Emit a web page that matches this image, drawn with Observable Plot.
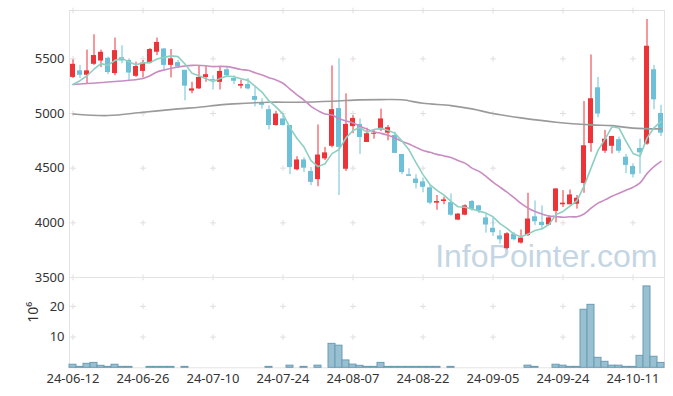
<!DOCTYPE html>
<html><head><meta charset="utf-8">
<script src="https://cdn.jsdelivr.net/npm/d3@7"></script>
<script src="https://cdn.jsdelivr.net/npm/@observablehq/plot@0.6"></script>
<style>
body{margin:0;background:#fff;}
#wrap{position:relative;width:673px;height:396px;}
#wrap svg{position:absolute;left:0;}
</style></head><body><div id="wrap"></div>
<script>
const dates = ["24-06-12","24-06-13","24-06-14","24-06-17","24-06-18","24-06-19","24-06-20","24-06-21","24-06-24","24-06-25","24-06-26","24-06-27","24-06-28",
"24-07-01","24-07-02","24-07-03","24-07-04","24-07-05","24-07-08","24-07-09","24-07-10","24-07-11","24-07-12","24-07-15","24-07-16","24-07-17","24-07-18","24-07-19","24-07-22","24-07-23","24-07-24","24-07-25","24-07-26","24-07-29","24-07-30","24-07-31",
"24-08-01","24-08-02","24-08-05","24-08-06","24-08-07","24-08-08","24-08-09","24-08-12","24-08-13","24-08-14","24-08-16","24-08-19","24-08-20","24-08-21","24-08-22","24-08-23","24-08-26","24-08-27","24-08-28","24-08-29","24-08-30",
"24-09-02","24-09-03","24-09-04","24-09-05","24-09-06","24-09-09","24-09-10","24-09-11","24-09-12","24-09-13","24-09-19","24-09-20","24-09-23","24-09-24","24-09-25","24-09-26","24-09-27","24-09-30",
"24-10-02","24-10-04","24-10-07","24-10-08","24-10-10","24-10-11","24-10-14","24-10-15","24-10-16","24-10-17"];

const open = [5330,5390,5350,5450,5480,5505,5365,5510,5485,5340,5385,5460,5560,5590,5440,5465,5395,5205,5225,5330,
5310,5285,5400,5320,5250,5265,5155,5100,5035,4890,4950,4890,4485,4575,4470,4395,4585,4700,5045,4490,
4880,4900,4735,4810,4850,4820,4800,4625,4440,4400,4375,4320,4180,4195,4185,4025,4070,4195,4155,4045,
3950,3880,3765,3895,3815,3885,4055,4005,3980,4105,4165,4165,4170,4360,4725,5235,4655,4700,4760,4600,
4515,4680,4720,5400,5000];
const high = [5490,5440,5580,5720,5580,5515,5690,5620,5500,5470,5485,5595,5690,5595,5585,5485,5395,5285,5430,5430,
5345,5430,5430,5345,5305,5320,5240,5135,5070,5020,4980,4890,4605,4595,4505,4895,4690,5435,5500,5180,
4980,4950,4865,4845,5040,4890,4830,4625,4495,4440,4410,4340,4250,4235,4265,4085,4165,4205,4160,4080,
4040,3930,3910,3910,3935,4270,4200,4155,4065,4310,4295,4300,4250,5110,5535,5330,4845,4790,4785,4625,
4540,4765,5860,5440,5075];
const low = [5320,5320,5270,5440,5420,5355,5345,5455,5300,5330,5325,5455,5530,5385,5325,5410,5115,5180,5220,5285,
5215,5215,5330,5265,5225,5215,5060,5040,4850,4885,4885,4440,4475,4460,4340,4330,4570,4685,4250,4470,
4815,4625,4735,4765,4835,4750,4635,4440,4425,4310,4275,4165,4115,4165,4060,4020,4065,4105,4085,3905,
3875,3805,3755,3835,3805,3875,3975,3935,3975,4000,4140,4165,4125,4270,4645,4960,4635,4630,4635,4450,
4410,4445,4710,5035,4790];
const close = [5450,5350,5390,5530,5560,5375,5575,5480,5370,5430,5460,5585,5650,5440,5500,5425,5250,5225,5330,5355,
5300,5385,5345,5295,5265,5225,5120,5075,4890,4995,4890,4505,4575,4500,4370,4620,4640,5035,4690,4900,
4955,4780,4815,4820,4950,4870,4635,4460,4425,4360,4325,4180,4195,4210,4070,4080,4155,4120,4110,3980,
3910,3845,3900,3845,3860,4035,4010,3975,4045,4310,4180,4255,4225,4705,5135,4995,4765,4790,4655,4525,
4440,4640,5615,5125,4820];
// volume in millions of shares
const volume = [1.0,0.3,1.3,1.6,0.65,0.3,1.0,0.3,0.3,0.05,0.05,0.3,0.3,0.3,0.3,0.05,0.3,0.05,0.05,0.05,
0.05,0.05,0.05,0.05,0.05,0.05,0.05,0.05,0.3,0.05,0.05,0.7,0.05,0.3,0.05,0.7,0.05,7.8,7.2,2.4,
1.05,0.65,0.3,0.3,1.6,0.3,0.3,0.3,0.3,0.3,0.3,0.3,0.3,0.05,0.3,0.05,0.05,0.05,0.05,0.05,
0.05,0.05,0.05,0.05,0.05,0.7,0.3,0.05,0.05,1.0,0.7,0.3,0.3,18.9,20.5,3.25,1.95,0.7,0.7,0.3,
0.3,3.9,26.5,3.6,1.6];
// moving-average lines
const ma5 = [5265,5300,5345,5405,5456,5441,5486,5504,5472,5446,5463,5465,5499,5513,5527,5520,5453,5368,5346,5317,
5292,5319,5343,5336,5318,5303,5250,5196,5115,5061,4994,4871,4771,4693,4568,4514,4541,4633,4671,4777,
4844,4872,4828,4854,4864,4847,4818,4747,4668,4550,4441,4350,4297,4254,4196,4147,4142,4127,4107,4089,
4055,3993,3949,3896,3872,3897,3930,3945,3985,4075,4104,4153,4203,4335,4500,4663,4765,4878,4868,4746,
4635,4610,4775,4869,4928];
const ma20 = [5265,null,null,null,null,null,5292,null,null,null,5320,5345,5380,5398,null,5425,null,5440,null,
5437,5429,5431,5429,5417,5402,5395,5372,5352,5328,5306,5277,5223,5170,5123,5066,5026,4995,4986,4954,4931,
4914,4884,4857,4833,4818,4800,4776,4745,4721,4690,4662,4645,4626,4612,4597,4570,4546,4500,4471,4425,
4373,4326,4280,4231,4177,4135,4104,4080,4061,4058,4051,4055,4056,4081,4134,4180,4210,4244,4271,4298,
4325,4365,4450,4514,4562];
const maLongIdx = [0,5,10,15,18,21,23,28,32,37,41,44,47,50,54,57,60,64,69,74,77,80,84];
const maLong = [4996,4981,5011,5042,5057,5079,5088,5103,5103,5112,5125,5127,5125,5093,5072,5042,5000,4960,4920,4896,4889,4866,4859];

const tickDates = ["24-06-12","24-06-26","24-07-10","24-07-24","24-08-07","24-08-22","24-09-05","24-09-24","24-10-11"];
const priceTicks = [3500,4000,4500,5000,5500];
const volumeTicks = [10,20];
const priceDomain = [3500,5942];
const volumeDomain = [0,29.4];

const data = dates.map((d,i)=>({date:d,open:open[i],high:high[i],low:low[i],close:close[i],volume:volume[i],ma5:ma5[i],ma20:ma20[i]}));
const longData = maLongIdx.map((k,j)=>({date:dates[k],v:maLong[j]}));
const UP = "#ee3338", DOWN = "#6cc0d7";
const colorOf = d => d.close >= d.open ? UP : DOWN;
const font = '"Noto Sans", "DejaVu Sans", sans-serif';

const priceCross = tickDates.flatMap(d => [...priceTicks, priceDomain[1]].map(v => ({date:d, v})));
const volCross = tickDates.flatMap(d => volumeTicks.map(v => ({date:d, v})));

const price = Plot.plot({
  width:673, height:285, marginLeft:69, marginRight:9, marginTop:10, marginBottom:8,
  style:{fontFamily:font, fontSize:"13px", color:"#333", background:"transparent", overflow:"visible"},
  x:{type:"band", domain:dates, paddingInner:0.3, paddingOuter:0.15, axis:null},
  y:{domain:priceDomain, ticks:priceTicks, tickSize:0, tickPadding:5, label:null, tickFormat:d=>String(d)},
  marks:[
    Plot.frame({stroke:"#e3e3e3"}),
    Plot.text(["InfoPointer.com"], {frameAnchor:"bottom-right", textAnchor:"end", lineAnchor:"middle", dx:-7, dy:-21, fontSize:32, fill:"#c4d6e3", fontFamily:'"Liberation Sans", Arial, sans-serif'}),
    Plot.dot(priceCross, {x:"date", y:"v", symbol:"plus", r:2, stroke:"#dedede", strokeWidth:1}),
    Plot.ruleX(data, {x:"date", y1:"low", y2:"high", stroke:colorOf, strokeWidth:1}),
    Plot.barY(data, {x:"date", y1:"open", y2:"close", fill:colorOf}),
    Plot.line(longData, {x:"date", y:"v", stroke:"#9a9a9a", strokeWidth:1.6, curve:"catmull-rom"}),
    Plot.line(data.filter(d=>d.ma20!=null), {x:"date", y:"ma20", stroke:"#c98cc2", strokeWidth:1.6, curve:"catmull-rom"}),
    Plot.line(data, {x:"date", y:"ma5", stroke:"#8dcfc2", strokeWidth:1.6})
  ]
});
price.style.top = "0px";

const vol = Plot.plot({
  width:673, height:127, marginLeft:69, marginRight:9, marginTop:8, marginBottom:28.7,
  style:{fontFamily:font, fontSize:"13px", color:"#333", background:"transparent", overflow:"visible"},
  x:{type:"band", domain:dates, padding:0, ticks:tickDates, tickSize:0, tickPadding:6, label:null, tickFormat:d=>d},
  y:{domain:volumeDomain, ticks:volumeTicks, tickSize:0, tickPadding:5, label:null},
  marks:[
    Plot.frame({stroke:"#e3e3e3"}),
    Plot.dot(volCross, {x:"date", y:"v", symbol:"plus", r:2, stroke:"#dedede", strokeWidth:1}),
    Plot.barY(data.filter(d=>d.volume>=0.2), {x:"date", y:"volume", fill:"#98c0d1", stroke:"#6b9cb5", strokeWidth:1}),
    Plot.text(["10⁶"], {frameAnchor:"left", dx:-36, rotate:-90, fontSize:14, fill:"#333"})
  ]
});
vol.style.top = "269px";
document.getElementById("wrap").append(price, vol);
</script></body></html>
